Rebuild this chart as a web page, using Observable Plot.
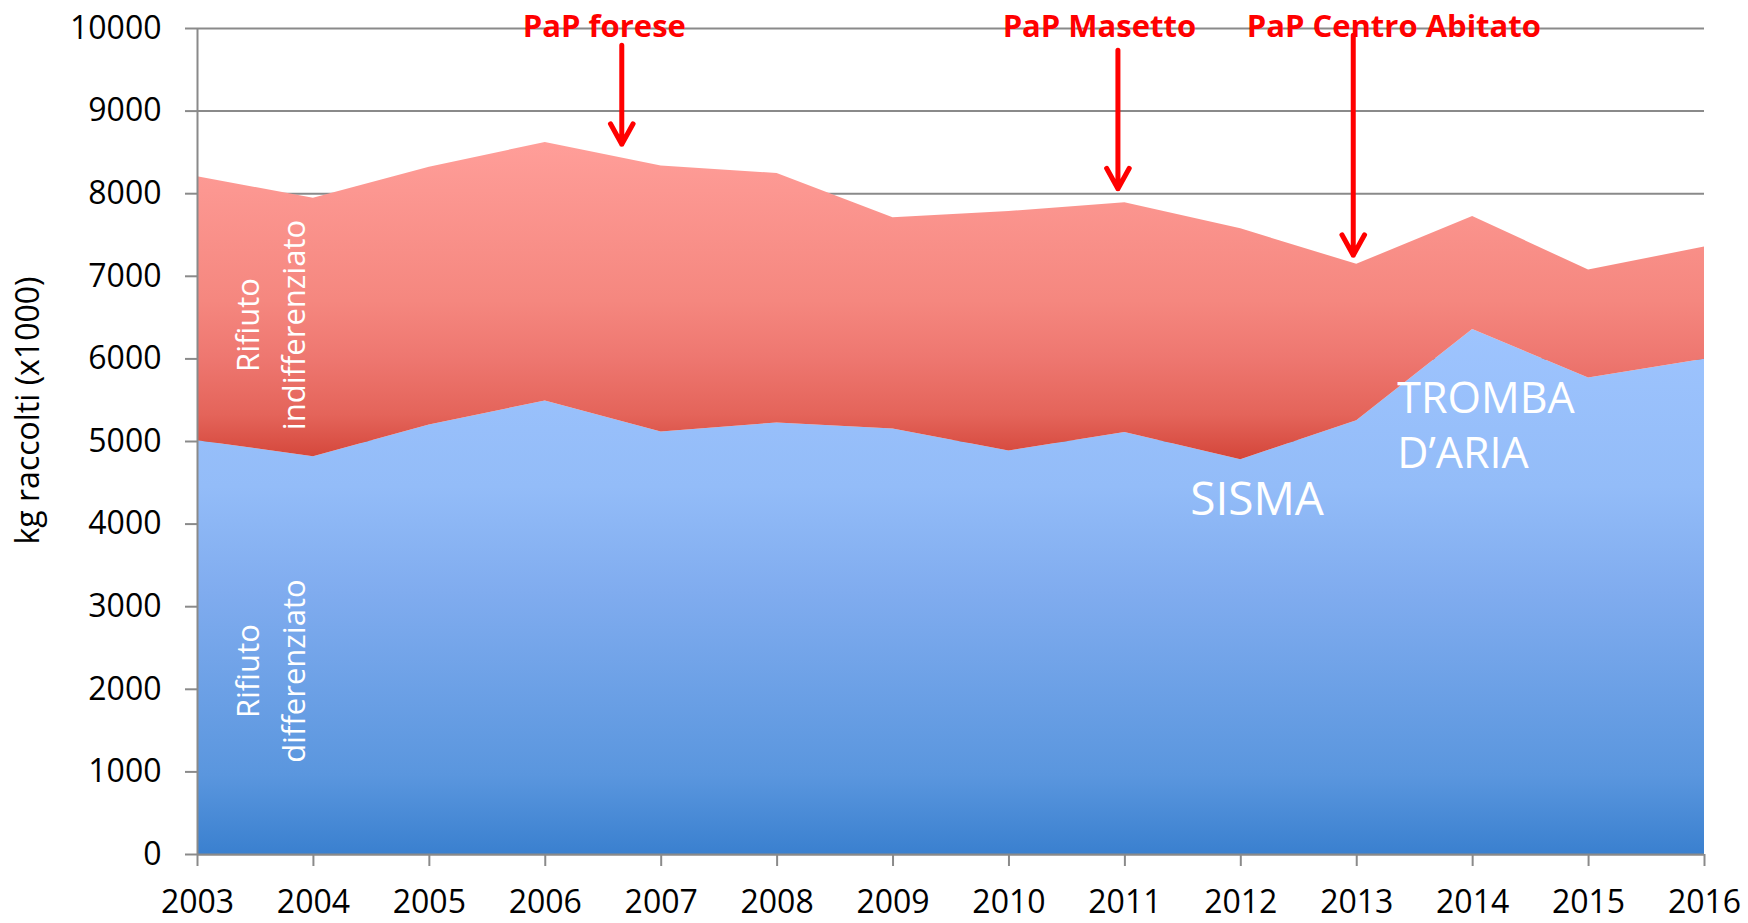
<!DOCTYPE html>
<html>
<head>
<meta charset="utf-8">
<script src="https://cdn.jsdelivr.net/npm/d3@7"></script>
<script src="https://cdn.jsdelivr.net/npm/@observablehq/plot@0.6"></script>
<style>
  html, body { margin: 0; padding: 0; background: #fff; }
  #chart svg { display: block; }
</style>
</head>
<body>
<div id="chart"></div>
<script>
// ---- Data ----
const years = [2003, 2004, 2005, 2006, 2007, 2008, 2009, 2010, 2011, 2012, 2013, 2014, 2015, 2016];
const differenziato = [5010, 4815, 5200, 5490, 5115, 5225, 5150, 4885, 5110, 4780, 5250, 6355, 5770, 5995];
const indifferenziato = [3195, 3130, 3120, 3130, 3220, 3020, 2560, 2900, 2780, 2795, 1895, 1370, 1305, 1360];
const yTicks = [0, 1000, 2000, 3000, 4000, 5000, 6000, 7000, 8000, 9000, 10000];
const yLabel = "kg raccolti (x1000)";

// Event annotations (red)
const eventLabels = ["PaP forese", "PaP Masetto", "PaP Centro Abitato"];
const eventLabelYear = [2006.51, 2010.78, 2013.32];
const eventArrowYear = [2006.66, 2010.94, 2012.97];
const eventArrowFrom = [9798, 9737, 9919];
const eventArrowTo = [8599, 8060, 7255];
const eventLabelLevel = 9895;

// White in-area labels
const seriesLabels = ["Rifiuto\nindifferenziato", "Rifiuto\ndifferenziato"];
const seriesLabelYear = [2003.6, 2003.6];
const seriesLabelValue = [6410, 2220];
const noteLabels = ["SISMA", "TROMBA\nD’ARIA"];
const noteYear = [2012.14, 2013.35];
const noteValue = [4283, 5815];

// ---- Tables built from the arrays ----
const rows = years.map((y, i) => ({
  year: y,
  diff: differenziato[i],
  indiff: indifferenziato[i]
}));
const events = eventLabels.map((t, i) => ({
  text: t, lx: eventLabelYear[i], ax: eventArrowYear[i], y1: eventArrowFrom[i], y2: eventArrowTo[i]
}));
const seriesText = seriesLabels.map((t, i) => ({text: t, x: seriesLabelYear[i], y: seriesLabelValue[i]}));
const notes = noteLabels.map((t, i) => ({text: t, x: noteYear[i], y: noteValue[i]}));

const FONT = "'Open Sans', 'Liberation Sans', sans-serif";
const GRID = "#8a8a8a";

const plot = Plot.plot({
  width: 1748,
  height: 923,
  marginLeft: 197,
  marginRight: 44,
  marginTop: 28,
  marginBottom: 69,
  style: {fontFamily: FONT, background: "white", overflow: "visible"},
  x: {type: "linear", domain: [2003, 2016]},
  y: {domain: [0, 10000]},
  marks: [
    Plot.gridY(yTicks, {stroke: GRID, strokeOpacity: 1, strokeWidth: 2}),
    // differenziato (bottom layer)
    Plot.areaY(rows, {x: "year", y1: 0, y2: "diff", fill: "url(#gradBlue)"}),
    // indifferenziato stacked on top of differenziato
    Plot.areaY(rows, {x: "year", y1: "diff", y2: d => d.diff + d.indiff, fill: "url(#gradRed)"}),
    Plot.ruleX([2003], {stroke: GRID, strokeWidth: 2}),
    Plot.ruleY([0], {stroke: GRID, strokeWidth: 2}),
    Plot.axisY(yTicks, {
      tickSize: 12, tickPadding: 24, fontSize: 32, stroke: GRID, strokeWidth: 2,
      fill: "black", label: null, tickFormat: d => String(d)
    }),
    Plot.axisX(years, {
      tickSize: 12, tickPadding: 24, fontSize: 32, stroke: GRID, strokeWidth: 2,
      fill: "black", label: null, tickFormat: d => String(d)
    }),
    Plot.text([yLabel], {
      text: d => d, frameAnchor: "left", rotate: -90, dx: -169, dy: -31,
      fontSize: 32, fill: "black", textAnchor: "middle", lineAnchor: "middle"
    }),
    Plot.text(seriesText, {
      x: "x", y: "y", text: "text", rotate: -90, fill: "white",
      fontSize: 31, lineHeight: 1.5, textAnchor: "middle", lineAnchor: "middle"
    }),
    Plot.text(notes.slice(0, 1), {
      x: "x", y: "y", text: "text", fill: "white", fontSize: 46,
      textAnchor: "middle", lineAnchor: "middle"
    }),
    Plot.text(notes.slice(1), {
      x: "x", y: "y", text: "text", fill: "white", fontSize: 43, lineHeight: 1.27,
      textAnchor: "start", lineAnchor: "top"
    }),
    Plot.arrow(events, {
      x1: "ax", x2: "ax", y1: "y1", y2: "y2", stroke: "#ff0000", strokeWidth: 5,
      headLength: 7, headAngle: 58
    }),
    Plot.text(events, {
      x: "lx", y: () => eventLabelLevel, text: "text", fill: "#ff0000",
      fontSize: 31, fontWeight: "bold", textAnchor: "middle", lineAnchor: "bottom"
    })
  ]
});

// gradient definitions (relative to each area's bounding box, as in the source)
const NS = "http://www.w3.org/2000/svg";
const defs = document.createElementNS(NS, "defs");
function grad(id, stops) {
  const g = document.createElementNS(NS, "linearGradient");
  g.setAttribute("id", id);
  g.setAttribute("x1", "0"); g.setAttribute("y1", "0");
  g.setAttribute("x2", "0"); g.setAttribute("y2", "1");
  for (const [o, c] of stops) {
    const s = document.createElementNS(NS, "stop");
    s.setAttribute("offset", o);
    s.setAttribute("stop-color", c);
    g.appendChild(s);
  }
  defs.appendChild(g);
}
grad("gradRed", [[0, "#ff9e99"], [0.5, "#f5877f"], [0.68, "#ee7770"], [0.86, "#e4645a"], [1, "#d4463a"]]);
grad("gradBlue", [[0, "#9ec4fe"], [0.3, "#93bcf8"], [0.5, "#80acef"], [0.85, "#5a96de"], [1, "#3a80cf"]]);
plot.insertBefore(defs, plot.firstChild);

document.getElementById("chart").appendChild(plot);
</script>
</body>
</html>
